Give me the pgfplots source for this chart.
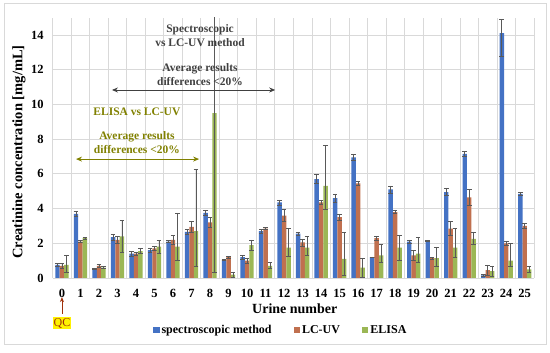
\documentclass[border=0pt]{standalone}
\usepackage{fontspec}
\setmainfont{Liberation Serif}
\usepackage{pgfplots}
\pgfplotsset{compat=1.18}
\usepackage{pgfplotstable}
\usetikzlibrary{arrows.meta}
\definecolor{cS}{HTML}{4472C4}
\definecolor{cL}{HTML}{C0704F}
\definecolor{cE}{HTML}{9BB755}
\definecolor{gridc}{HTML}{D9D9D9}
\definecolor{darkt}{HTML}{404040}
\definecolor{olivet}{HTML}{808000}
\definecolor{qcred}{HTML}{A0300A}
\definecolor{errc}{HTML}{595959}

\pgfplotstableread{
x s sp sm l lp lm e ep em
0 0.75 0.1 0.1 0.7 0.15 0.15 0.75 0.55 0.45
1 3.7 0.15 0.15 2.1 0.05 0.05 2.3 0.05 0.05
2 0.55 0.03 0.03 0.7 0.1 0.1 0.6 0.05 0.05
3 2.35 0.15 0.15 2.2 0.2 0.2 2.4 0.9 0.9
4 1.4 0.15 0.15 1.4 0.1 0.1 1.55 0.15 0.15
5 1.6 0.1 0.1 1.7 0.1 0.1 1.8 0.35 0.35
6 2.1 0.05 0.05 2.2 0.25 0.25 1.8 1.95 0.8
7 2.65 0.15 0.15 2.95 0.3 0.3 2.7 3.55 2.05
8 3.75 0.15 0.15 3.2 0.3 0.3 9.5 9.2 9.2
9 1.05 0.05 0.05 1.2 0.05 0.05 0.2 0.15 0.15
10 1.2 0.1 0.1 1.0 0.15 0.15 1.9 0.3 0.3
11 2.7 0.1 0.1 2.85 0.05 0.05 0.7 0.2 0.15
12 4.35 0.15 0.15 3.6 0.35 0.35 1.75 1.1 0.5
13 2.55 0.1 0.1 2.05 0.2 0.2 1.75 0.65 0.45
14 5.7 0.25 0.25 4.35 0.1 0.1 5.3 2.35 1.35
15 4.6 0.25 0.25 3.5 0.15 0.15 1.1 1.55 0.95
16 6.95 0.15 0.15 5.45 0.1 0.1 0.6 0.55 0.55
17 1.2 0.02 0.02 2.3 0.1 0.1 1.3 0.65 0.4
18 5.1 0.2 0.2 3.8 0.1 0.1 1.75 0.7 0.75
19 2.1 0.1 0.1 1.3 0.3 0.3 1.4 0.95 0.5
20 2.15 0.03 0.03 1.15 0.05 0.05 1.15 0.6 0.5
21 4.95 0.2 0.2 2.85 0.4 0.4 1.75 1.1 0.55
22 7.15 0.15 0.15 4.65 0.45 0.45 2.25 0.4 0.3
23 0.15 0.05 0.05 0.45 0.3 0.3 0.4 0.3 0.3
24 14.1 0.8 1.35 2.0 0.1 0.1 1.0 1.0 0.3
25 4.85 0.1 0.1 3.0 0.15 0.15 0.5 0.15 0.15
}\data

\begin{document}
\begin{tikzpicture}
\useasboundingbox (0pt,0pt) rectangle (550pt,353pt);
\draw[gridc] (4pt,9pt) rectangle (546pt,350pt);
\begin{axis}[
  at={(52.7pt,75pt)}, anchor=south west,
  scale only axis, width=481.3pt, height=260.4pt,
  xmin=-0.5, xmax=25.5, ymin=0, ymax=15,
  ybar, bar width=0.24,
  clip mode=individual,
  axis line style={draw=none},
  tick style={draw=none},
  xtick={0,...,25},
  minor xtick={-0.5,0.5,...,25.5},
  ytick={0,2,...,14},
  xmajorgrids=false, xminorgrids=true, ymajorgrids=true,
  grid style={gridc, line width=0.7pt},
  minor grid style={gridc, line width=0.7pt},
  /pgf/number format/assume math mode=true,
  xticklabel style={font=\fontsize{12.5}{14}\selectfont\bfseries, yshift=-3.5pt},
  yticklabel style={font=\fontsize{12.5}{14}\selectfont\bfseries, xshift=-5.5pt},
  xlabel={Urine number},
  ylabel={Creatinine concentration [mg/mL]},
  every axis x label/.style={at={(axis description cs:0.503,-0.119)}, anchor=center, font=\fontsize{14}{16}\selectfont\bfseries},
  every axis y label/.style={at={(axis description cs:-0.07,0.484)}, anchor=center, rotate=90, font=\fontsize{14.5}{16}\selectfont\bfseries},
  legend style={at={(0.474,-0.2)}, anchor=center, draw=none, fill=none,
    font=\fontsize{12}{13}\selectfont\bfseries, legend columns=3,
    /tikz/every even column/.append style={column sep=20pt}},
  legend image code/.code={\fill[#1] (0pt,-3.2pt) rectangle (6.4pt,3.2pt);},
  error bars/error bar style={errc, line width=0.6pt},
  error bars/error mark options={rotate=90, mark size=2.3pt, errc, line width=0.6pt},
]
\addplot[fill=cS, draw=none, bar shift=-0.24,
  error bars/.cd, y dir=both, y explicit]
  table[x=x, y=s, y error plus=sp, y error minus=sm]{\data};
\addlegendentry{spectroscopic method}
\addplot[fill=cL, draw=none, bar shift=0,
  error bars/.cd, y dir=both, y explicit]
  table[x=x, y=l, y error plus=lp, y error minus=lm]{\data};
\addlegendentry{LC-UV}
\addplot[fill=cE, draw=none, bar shift=0.24,
  error bars/.cd, y dir=both, y explicit]
  table[x=x, y=e, y error plus=ep, y error minus=em]{\data};
\addlegendentry{ELISA}

\node[font=\fontsize{11.5}{14}\selectfont\bfseries, text=darkt, align=center] at (axis cs:7.46,13.94) {Spectroscopic\\vs LC-UV method};
\node[font=\fontsize{11.5}{14}\selectfont\bfseries, text=darkt, align=center] at (axis cs:7.46,11.69) {Average results\\differences <20\%};
\draw[{Stealth[length=6pt,width=5pt]}-{Stealth[length=6pt,width=5pt]}, darkt, line width=0.9pt] (axis cs:2.7,10.83) -- (axis cs:11.52,10.83);
\node[font=\fontsize{11.5}{14}\selectfont\bfseries, text=olivet, align=center] at (axis cs:4.05,9.56) {ELISA vs LC-UV};
\node[font=\fontsize{11.5}{14}\selectfont\bfseries, text=olivet, align=center] at (axis cs:4.05,7.78) {Average results\\differences <20\%};
\draw[{Stealth[length=6pt,width=5pt]}-{Stealth[length=6pt,width=5pt]}, olivet, line width=0.9pt] (axis cs:0.76,6.85) -- (axis cs:7.41,6.85);
\node[fill=yellow, text=qcred, inner sep=1pt, font=\fontsize{12}{13}\selectfont] at (axis cs:0,-2.6) {QC};
\draw[-{Stealth[length=5pt,width=4pt]}, qcred, line width=0.9pt] (axis cs:0,-2.05) -- (axis cs:0,-1.1);
\end{axis}
\end{tikzpicture}
\end{document}
